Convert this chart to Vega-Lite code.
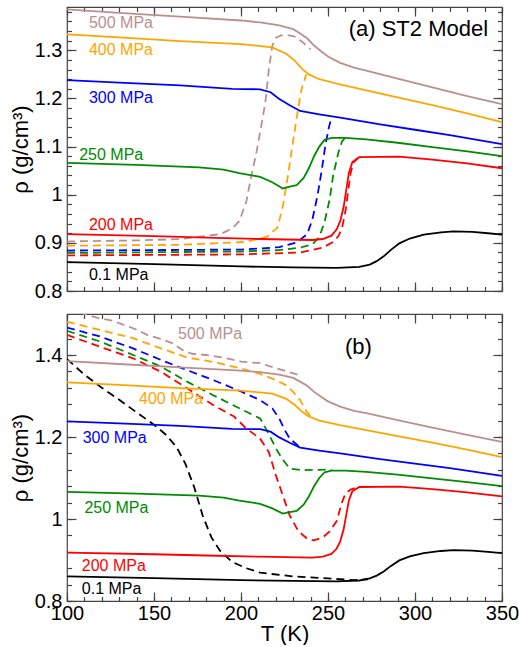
{
  "$schema": "https://vega.github.io/schema/vega-lite/v6.json",
  "padding": {"left": 8, "top": 5, "right": 5, "bottom": 0},
  "spacing": 23,
  "bounds": "flush",
  "config": {
    "view": {"stroke": "#444", "strokeWidth": 1.2},
    "axis": {"grid": false, "domain": false, "ticks": true, "tickOpacity": 1, "labelFont": "Liberation Sans", "titleFont": "Liberation Sans", "tickColor": "#444", "tickWidth": 1.2, "labelColor": "#000", "titleColor": "#000", "labelFontSize": 20, "titleFontSize": 22, "titleFontWeight": "normal", "labelOverlap": false, "labelFlush": false, "labelBound": false}
  },
  "datasets": {
    "solid": [
      {"P":"500","T":100,"rho":1.385},{"P":"500","T":130,"rho":1.378},{"P":"500","T":165,"rho":1.370},{"P":"500","T":200,"rho":1.362},{"P":"500","T":211,"rho":1.358},{"P":"500","T":222,"rho":1.352},{"P":"500","T":230,"rho":1.344},{"P":"500","T":234,"rho":1.335},{"P":"500","T":238,"rho":1.325},{"P":"500","T":242,"rho":1.310},{"P":"500","T":246,"rho":1.298},{"P":"500","T":250,"rho":1.287},{"P":"500","T":257,"rho":1.274},{"P":"500","T":265,"rho":1.264},{"P":"500","T":272,"rho":1.258},{"P":"500","T":290,"rho":1.241},{"P":"500","T":310,"rho":1.223},{"P":"500","T":330,"rho":1.205},{"P":"500","T":350,"rho":1.188},
      {"P":"400","T":100,"rho":1.333},{"P":"400","T":130,"rho":1.327},{"P":"400","T":165,"rho":1.319},{"P":"400","T":200,"rho":1.313},{"P":"400","T":218,"rho":1.306},{"P":"400","T":226,"rho":1.293},{"P":"400","T":231,"rho":1.278},{"P":"400","T":235,"rho":1.262},{"P":"400","T":239,"rho":1.250},{"P":"400","T":245,"rho":1.240},{"P":"400","T":257,"rho":1.229},{"P":"400","T":272,"rho":1.217},{"P":"400","T":290,"rho":1.202},{"P":"400","T":310,"rho":1.186},{"P":"400","T":330,"rho":1.169},{"P":"400","T":350,"rho":1.151},
      {"P":"300","T":100,"rho":1.238},{"P":"300","T":130,"rho":1.233},{"P":"300","T":165,"rho":1.227},{"P":"300","T":195,"rho":1.220},{"P":"300","T":211,"rho":1.219},{"P":"300","T":217,"rho":1.213},{"P":"300","T":222,"rho":1.199},{"P":"300","T":228,"rho":1.186},{"P":"300","T":234,"rho":1.174},{"P":"300","T":245,"rho":1.167},{"P":"300","T":257,"rho":1.160},{"P":"300","T":280,"rho":1.146},{"P":"300","T":300,"rho":1.135},{"P":"300","T":320,"rho":1.124},{"P":"300","T":350,"rho":1.105},
      {"P":"250","T":100,"rho":1.066},{"P":"250","T":140,"rho":1.062},{"P":"250","T":176,"rho":1.057},{"P":"250","T":190,"rho":1.052},{"P":"250","T":199,"rho":1.045},{"P":"250","T":211,"rho":1.037},{"P":"250","T":218,"rho":1.026},{"P":"250","T":224,"rho":1.013},{"P":"250","T":228,"rho":1.017},{"P":"250","T":232,"rho":1.020},{"P":"250","T":236,"rho":1.035},{"P":"250","T":239,"rho":1.055},{"P":"250","T":242,"rho":1.080},{"P":"250","T":245,"rho":1.100},{"P":"250","T":248,"rho":1.114},{"P":"250","T":252,"rho":1.118},{"P":"250","T":260,"rho":1.118},{"P":"250","T":272,"rho":1.115},{"P":"250","T":290,"rho":1.108},{"P":"250","T":310,"rho":1.099},{"P":"250","T":330,"rho":1.090},{"P":"250","T":350,"rho":1.080},
      {"P":"200","T":100,"rho":0.918},{"P":"200","T":150,"rho":0.914},{"P":"200","T":180,"rho":0.911},{"P":"200","T":211,"rho":0.908},{"P":"200","T":241,"rho":0.906},{"P":"200","T":247,"rho":0.908},{"P":"200","T":252,"rho":0.915},{"P":"200","T":255,"rho":0.928},{"P":"200","T":257,"rho":0.945},{"P":"200","T":259,"rho":0.975},{"P":"200","T":260.5,"rho":1.010},{"P":"200","T":262,"rho":1.045},{"P":"200","T":264,"rho":1.068},{"P":"200","T":268,"rho":1.078},{"P":"200","T":291,"rho":1.079},{"P":"200","T":310,"rho":1.073},{"P":"200","T":330,"rho":1.065},{"P":"200","T":350,"rho":1.055},
      {"P":"0.1","T":100,"rho":0.860},{"P":"0.1","T":150,"rho":0.856},{"P":"0.1","T":200,"rho":0.851},{"P":"0.1","T":230,"rho":0.849},{"P":"0.1","T":255,"rho":0.848},{"P":"0.1","T":268,"rho":0.850},{"P":"0.1","T":274,"rho":0.855},{"P":"0.1","T":278,"rho":0.862},{"P":"0.1","T":282,"rho":0.872},{"P":"0.1","T":286,"rho":0.885},{"P":"0.1","T":291,"rho":0.899},{"P":"0.1","T":297,"rho":0.909},{"P":"0.1","T":305,"rho":0.917},{"P":"0.1","T":315,"rho":0.922},{"P":"0.1","T":322,"rho":0.924},{"P":"0.1","T":333,"rho":0.923},{"P":"0.1","T":342,"rho":0.920},{"P":"0.1","T":350,"rho":0.917}
    ],
    "dashA": [
      {"P":"500","T":100,"rho":0.903},{"P":"500","T":140,"rho":0.905},{"P":"500","T":165,"rho":0.908},{"P":"500","T":188,"rho":0.918},{"P":"500","T":195,"rho":0.930},{"P":"500","T":199,"rho":0.945},{"P":"500","T":203,"rho":0.985},{"P":"500","T":206,"rho":1.040},{"P":"500","T":209,"rho":1.090},{"P":"500","T":211,"rho":1.130},{"P":"500","T":214,"rho":1.192},{"P":"500","T":216,"rho":1.260},{"P":"500","T":218,"rho":1.310},{"P":"500","T":220,"rho":1.326},{"P":"500","T":223,"rho":1.331},{"P":"500","T":228,"rho":1.331},{"P":"500","T":232,"rho":1.327},{"P":"500","T":236,"rho":1.315},{"P":"500","T":240,"rho":1.302},
      {"P":"400","T":100,"rho":0.894},{"P":"400","T":165,"rho":0.896},{"P":"400","T":203,"rho":0.902},{"P":"400","T":215,"rho":0.913},{"P":"400","T":221,"rho":0.932},{"P":"400","T":224,"rho":0.975},{"P":"400","T":227,"rho":1.040},{"P":"400","T":229.5,"rho":1.100},{"P":"400","T":232,"rho":1.160},{"P":"400","T":234.5,"rho":1.215},{"P":"400","T":237.5,"rho":1.250},
      {"P":"300","T":100,"rho":0.884},{"P":"300","T":200,"rho":0.886},{"P":"300","T":222,"rho":0.891},{"P":"300","T":232,"rho":0.901},{"P":"300","T":238,"rho":0.918},{"P":"300","T":241,"rho":0.948},{"P":"300","T":244,"rho":0.999},{"P":"300","T":246.5,"rho":1.053},{"P":"300","T":248.5,"rho":1.103},{"P":"300","T":250.5,"rho":1.140},{"P":"300","T":252,"rho":1.160},
      {"P":"250","T":100,"rho":0.879},{"P":"250","T":200,"rho":0.882},{"P":"250","T":222,"rho":0.885},{"P":"250","T":234,"rho":0.890},{"P":"250","T":241,"rho":0.897},{"P":"250","T":245,"rho":0.912},{"P":"250","T":248,"rho":0.943},{"P":"250","T":251,"rho":0.991},{"P":"250","T":253,"rho":1.041},{"P":"250","T":256,"rho":1.088},{"P":"250","T":258,"rho":1.110},{"P":"250","T":260,"rho":1.119},
      {"P":"200","T":100,"rho":0.874},{"P":"200","T":200,"rho":0.876},{"P":"200","T":234,"rho":0.880},{"P":"200","T":247,"rho":0.890},{"P":"200","T":253,"rho":0.902},{"P":"200","T":256,"rho":0.914},{"P":"200","T":258,"rho":0.930},{"P":"200","T":260,"rho":0.965},{"P":"200","T":261.5,"rho":1.005},{"P":"200","T":263,"rho":1.045},{"P":"200","T":264.5,"rho":1.066},{"P":"200","T":267,"rho":1.076}
    ],
    "dashB": [
      {"P":"0.1","T":100,"rho":1.390},{"P":"0.1","T":110,"rho":1.352},{"P":"0.1","T":120,"rho":1.320},{"P":"0.1","T":130,"rho":1.291},{"P":"0.1","T":140,"rho":1.260},{"P":"0.1","T":150,"rho":1.230},{"P":"0.1","T":157,"rho":1.205},{"P":"0.1","T":163,"rho":1.175},{"P":"0.1","T":168,"rho":1.135},{"P":"0.1","T":173,"rho":1.079},{"P":"0.1","T":178,"rho":1.008},{"P":"0.1","T":183,"rho":0.955},{"P":"0.1","T":188,"rho":0.922},{"P":"0.1","T":195,"rho":0.895},{"P":"0.1","T":203,"rho":0.880},{"P":"0.1","T":211,"rho":0.869},{"P":"0.1","T":230,"rho":0.860},{"P":"0.1","T":250,"rho":0.855},{"P":"0.1","T":265,"rho":0.851},{"P":"0.1","T":273,"rho":0.853},
      {"P":"500","T":100,"rho":1.515},{"P":"500","T":110,"rho":1.500},{"P":"500","T":119,"rho":1.489},{"P":"500","T":126,"rho":1.484},{"P":"500","T":133,"rho":1.473},{"P":"500","T":140,"rho":1.462},{"P":"500","T":146,"rho":1.449},{"P":"500","T":154,"rho":1.439},{"P":"500","T":161,"rho":1.428},{"P":"500","T":167,"rho":1.410},{"P":"500","T":172,"rho":1.403},{"P":"500","T":180,"rho":1.400},{"P":"500","T":192,"rho":1.392},{"P":"500","T":200,"rho":1.384},{"P":"500","T":211,"rho":1.380},{"P":"500","T":220,"rho":1.368},{"P":"500","T":228,"rho":1.358},{"P":"500","T":234,"rho":1.350},
      {"P":"400","T":100,"rho":1.481},{"P":"400","T":119,"rho":1.461},{"P":"400","T":138,"rho":1.441},{"P":"400","T":154,"rho":1.416},{"P":"400","T":169,"rho":1.394},{"P":"400","T":184,"rho":1.383},{"P":"400","T":200,"rho":1.367},{"P":"400","T":211,"rho":1.354},{"P":"400","T":220,"rho":1.339},{"P":"400","T":226,"rho":1.326},{"P":"400","T":230,"rho":1.310},{"P":"400","T":234,"rho":1.290},{"P":"400","T":237.5,"rho":1.263},{"P":"400","T":240,"rho":1.250},
      {"P":"300","T":100,"rho":1.467},{"P":"300","T":119,"rho":1.445},{"P":"300","T":138,"rho":1.416},{"P":"300","T":154,"rho":1.388},{"P":"300","T":169,"rho":1.363},{"P":"300","T":184,"rho":1.339},{"P":"300","T":200,"rho":1.311},{"P":"300","T":211,"rho":1.290},{"P":"300","T":218,"rho":1.270},{"P":"300","T":222,"rho":1.245},{"P":"300","T":225,"rho":1.218},{"P":"300","T":228,"rho":1.196},{"P":"300","T":233,"rho":1.178},
      {"P":"250","T":100,"rho":1.459},{"P":"250","T":119,"rho":1.433},{"P":"250","T":138,"rho":1.400},{"P":"250","T":154,"rho":1.372},{"P":"250","T":169,"rho":1.335},{"P":"250","T":184,"rho":1.302},{"P":"250","T":200,"rho":1.268},{"P":"250","T":211,"rho":1.245},{"P":"250","T":215,"rho":1.215},{"P":"250","T":218,"rho":1.190},{"P":"250","T":221,"rho":1.165},{"P":"250","T":224,"rho":1.145},{"P":"250","T":228,"rho":1.123},{"P":"250","T":235,"rho":1.119},{"P":"250","T":245,"rho":1.120},{"P":"250","T":252,"rho":1.121},
      {"P":"200","T":100,"rho":1.449},{"P":"200","T":119,"rho":1.420},{"P":"200","T":138,"rho":1.392},{"P":"200","T":154,"rho":1.359},{"P":"200","T":169,"rho":1.319},{"P":"200","T":184,"rho":1.278},{"P":"200","T":196,"rho":1.250},{"P":"200","T":203,"rho":1.221},{"P":"200","T":211,"rho":1.196},{"P":"200","T":216,"rho":1.163},{"P":"200","T":220,"rho":1.107},{"P":"200","T":224,"rho":1.058},{"P":"200","T":228,"rho":1.009},{"P":"200","T":233,"rho":0.970},{"P":"200","T":238,"rho":0.952},{"P":"200","T":242,"rho":0.948},{"P":"200","T":247,"rho":0.955},{"P":"200","T":251,"rho":0.970},{"P":"200","T":255,"rho":0.995},{"P":"200","T":258,"rho":1.040},{"P":"200","T":260,"rho":1.062},{"P":"200","T":263,"rho":1.072},{"P":"200","T":266,"rho":1.076}
    ],
    "labA": [
      {"P":"500","T":112.6,"rho":1.356,"label":"500 MPa"},{"P":"400","T":112.6,"rho":1.300,"label":"400 MPa"},{"P":"300","T":112.6,"rho":1.200,"label":"300 MPa"},{"P":"250","T":107,"rho":1.082,"label":"250 MPa"},{"P":"200","T":112.6,"rho":0.937,"label":"200 MPa"},{"P":"0.1","T":112.6,"rho":0.833,"label":"0.1 MPa"}
    ],
    "labB": [
      {"P":"500","T":163.8,"rho":1.451,"label":"500 MPa"},{"P":"400","T":141.4,"rho":1.293,"label":"400 MPa"},{"P":"300","T":109,"rho":1.198,"label":"300 MPa"},{"P":"250","T":110,"rho":1.027,"label":"250 MPa"},{"P":"200","T":108.5,"rho":0.885,"label":"200 MPa"},{"P":"0.1","T":108.5,"rho":0.829,"label":"0.1 MPa"}
    ],
    "titA": [{"T":342,"rho":1.3436,"label":"(a) ST2 Model"}],
    "titB": [{"T":267.5,"rho":1.42,"label":"(b)"}]
  },
  "vconcat": [
    {
      "width": 435,
      "height": 284,
      "resolve": {"axis": {"x": "independent", "y": "independent"}},
      "layer": [
        {
          "data": {"name": "dashA"},
          "mark": {"type": "line", "strokeWidth": 1.8, "strokeDash": [8, 5]},
          "encoding": {
            "x": {"field": "T", "type": "quantitative", "scale": {"domain": [100, 350], "nice": false, "zero": false},
              "axis": {"orient": "top", "values": [100,150,200,250,300,350], "labels": false, "title": null, "tickSize": 9, "offset": -9}},
            "y": {"field": "rho", "type": "quantitative", "scale": {"domain": [0.8, 1.39], "nice": false, "zero": false},
              "axis": {"orient": "right", "values": [0.8,0.9,1,1.1,1.2,1.3], "labels": false, "title": null, "tickSize": 9, "offset": -9}},
            "color": {"field": "P", "type": "nominal", "scale": {"domain": ["0.1","200","250","300","400","500"], "range": ["#000000","#ff0000","#008b00","#0000ff","#ffa500","#bc8f8f"]}, "legend": null}
          }
        },
        {
          "data": {"name": "solid"},
          "mark": {"type": "line", "strokeWidth": 1.8},
          "encoding": {
            "x": {"field": "T", "type": "quantitative", "scale": {"domain": [100, 350], "nice": false, "zero": false},
              "axis": {"orient": "bottom", "values": [100,150,200,250,300,350], "labels": false, "title": null, "tickSize": 9, "offset": -9}},
            "y": {"field": "rho", "type": "quantitative", "scale": {"domain": [0.8, 1.39], "nice": false, "zero": false},
              "axis": {"orient": "left", "values": [0.8,0.9,1,1.1,1.2,1.3], "format": "~g", "tickSize": 9, "offset": -9, "labelPadding": 5, "title": "ρ  (g/cm³)", "titlePadding": 2}},
            "color": {"field": "P", "type": "nominal", "scale": {"domain": ["0.1","200","250","300","400","500"], "range": ["#000000","#ff0000","#008b00","#0000ff","#ffa500","#bc8f8f"]}, "legend": null}
          }
        },
        {
          "data": {"name": "labA"},
          "mark": {"type": "text", "align": "left", "baseline": "middle", "font": "Liberation Sans", "fontSize": 16},
          "encoding": {
            "x": {"field": "T", "type": "quantitative", "scale": {"domain": [100, 350], "nice": false, "zero": false},
              "axis": {"orient": "bottom", "values": [100,110,120,130,140,150,160,170,180,190,200,210,220,230,240,250,260,270,280,290,300,310,320,330,340,350], "labels": false, "title": null, "tickSize": 4.5, "offset": -4.5}},
            "y": {"field": "rho", "type": "quantitative", "scale": {"domain": [0.8, 1.39], "nice": false, "zero": false},
              "axis": {"orient": "left", "values": [0.8,0.82,0.84,0.86,0.88,0.9,0.92,0.94,0.96,0.98,1,1.02,1.04,1.06,1.08,1.1,1.12,1.14,1.16,1.18,1.2,1.22,1.24,1.26,1.28,1.3,1.32,1.34,1.36,1.38], "labels": false, "title": null, "tickSize": 4.5, "offset": -4.5}},
            "text": {"field": "label"},
            "color": {"field": "P", "type": "nominal", "scale": {"domain": ["0.1","200","250","300","400","500"], "range": ["#000000","#ff0000","#008b00","#0000ff","#ffa500","#bc8f8f"]}, "legend": null}
          }
        },
        {
          "data": {"name": "titA"},
          "mark": {"type": "text", "align": "right", "baseline": "middle", "font": "Liberation Sans", "fontSize": 22, "color": "#000"},
          "encoding": {
            "x": {"field": "T", "type": "quantitative", "scale": {"domain": [100, 350], "nice": false, "zero": false},
              "axis": {"orient": "top", "values": [100,110,120,130,140,150,160,170,180,190,200,210,220,230,240,250,260,270,280,290,300,310,320,330,340,350], "labels": false, "title": null, "tickSize": 4.5, "offset": -4.5}},
            "y": {"field": "rho", "type": "quantitative", "scale": {"domain": [0.8, 1.39], "nice": false, "zero": false},
              "axis": {"orient": "right", "values": [0.8,0.82,0.84,0.86,0.88,0.9,0.92,0.94,0.96,0.98,1,1.02,1.04,1.06,1.08,1.1,1.12,1.14,1.16,1.18,1.2,1.22,1.24,1.26,1.28,1.3,1.32,1.34,1.36,1.38], "labels": false, "title": null, "tickSize": 4.5, "offset": -4.5}},
            "text": {"field": "label"}
          }
        }
      ]
    },
    {
      "width": 435,
      "height": 287,
      "resolve": {"axis": {"x": "independent", "y": "independent"}},
      "layer": [
        {
          "data": {"name": "dashB"},
          "mark": {"type": "line", "strokeWidth": 1.8, "strokeDash": [8, 5], "clip": true},
          "encoding": {
            "x": {"field": "T", "type": "quantitative", "scale": {"domain": [100, 350], "nice": false, "zero": false},
              "axis": {"orient": "top", "values": [100,150,200,250,300,350], "labels": false, "title": null, "tickSize": 9, "offset": -9}},
            "y": {"field": "rho", "type": "quantitative", "scale": {"domain": [0.8, 1.5], "nice": false, "zero": false},
              "axis": {"orient": "right", "values": [0.8,1,1.2,1.4], "labels": false, "title": null, "tickSize": 9, "offset": -9}},
            "color": {"field": "P", "type": "nominal", "scale": {"domain": ["0.1","200","250","300","400","500"], "range": ["#000000","#ff0000","#008b00","#0000ff","#ffa500","#bc8f8f"]}, "legend": null}
          }
        },
        {
          "data": {"name": "solid"},
          "mark": {"type": "line", "strokeWidth": 1.8},
          "encoding": {
            "x": {"field": "T", "type": "quantitative", "scale": {"domain": [100, 350], "nice": false, "zero": false},
              "axis": {"orient": "bottom", "values": [100,150,200,250,300,350], "tickSize": 9, "offset": -9, "labelPadding": 2, "title": "T  (K)", "titlePadding": 0}},
            "y": {"field": "rho", "type": "quantitative", "scale": {"domain": [0.8, 1.5], "nice": false, "zero": false},
              "axis": {"orient": "left", "values": [0.8,1,1.2,1.4], "format": "~g", "tickSize": 9, "offset": -9, "labelPadding": 5, "title": "ρ  (g/cm³)", "titlePadding": 2}},
            "color": {"field": "P", "type": "nominal", "scale": {"domain": ["0.1","200","250","300","400","500"], "range": ["#000000","#ff0000","#008b00","#0000ff","#ffa500","#bc8f8f"]}, "legend": null}
          }
        },
        {
          "data": {"name": "labB"},
          "mark": {"type": "text", "align": "left", "baseline": "middle", "font": "Liberation Sans", "fontSize": 16},
          "encoding": {
            "x": {"field": "T", "type": "quantitative", "scale": {"domain": [100, 350], "nice": false, "zero": false},
              "axis": {"orient": "bottom", "values": [100,110,120,130,140,150,160,170,180,190,200,210,220,230,240,250,260,270,280,290,300,310,320,330,340,350], "labels": false, "title": null, "tickSize": 4.5, "offset": -4.5}},
            "y": {"field": "rho", "type": "quantitative", "scale": {"domain": [0.8, 1.5], "nice": false, "zero": false},
              "axis": {"orient": "left", "values": [0.8,0.84,0.88,0.92,0.96,1,1.04,1.08,1.12,1.16,1.2,1.24,1.28,1.32,1.36,1.4,1.44,1.48], "labels": false, "title": null, "tickSize": 4.5, "offset": -4.5}},
            "text": {"field": "label"},
            "color": {"field": "P", "type": "nominal", "scale": {"domain": ["0.1","200","250","300","400","500"], "range": ["#000000","#ff0000","#008b00","#0000ff","#ffa500","#bc8f8f"]}, "legend": null}
          }
        },
        {
          "data": {"name": "titB"},
          "mark": {"type": "text", "align": "center", "baseline": "middle", "font": "Liberation Sans", "fontSize": 22, "color": "#000"},
          "encoding": {
            "x": {"field": "T", "type": "quantitative", "scale": {"domain": [100, 350], "nice": false, "zero": false},
              "axis": {"orient": "top", "values": [100,110,120,130,140,150,160,170,180,190,200,210,220,230,240,250,260,270,280,290,300,310,320,330,340,350], "labels": false, "title": null, "tickSize": 4.5, "offset": -4.5}},
            "y": {"field": "rho", "type": "quantitative", "scale": {"domain": [0.8, 1.5], "nice": false, "zero": false},
              "axis": {"orient": "right", "values": [0.8,0.84,0.88,0.92,0.96,1,1.04,1.08,1.12,1.16,1.2,1.24,1.28,1.32,1.36,1.4,1.44,1.48], "labels": false, "title": null, "tickSize": 4.5, "offset": -4.5}},
            "text": {"field": "label"}
          }
        }
      ]
    }
  ]
}
